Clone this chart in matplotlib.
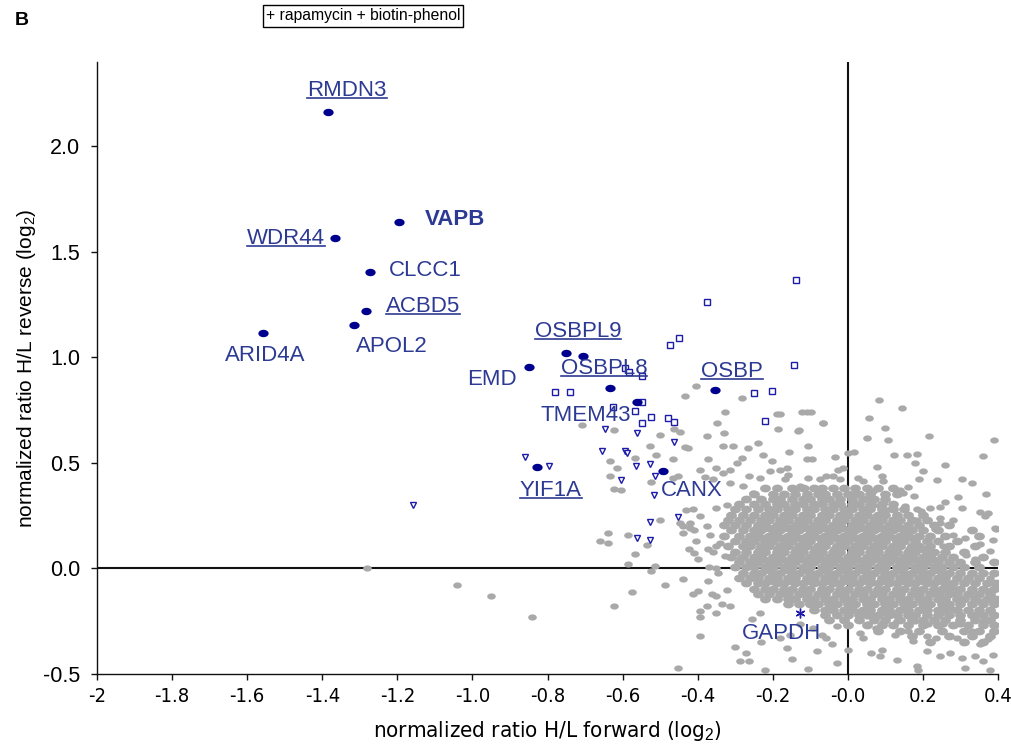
import matplotlib
matplotlib.use('Agg')
import matplotlib.pyplot as plt
from matplotlib import font_manager
from matplotlib.path import Path
from matplotlib.lines import Line2D
import numpy as np

plt.rcParams['font.family'] = ['Liberation Sans', 'DejaVu Sans']
plt.rcParams['mathtext.fontset'] = 'custom'
plt.rcParams['mathtext.rm'] = 'Liberation Sans'
plt.rcParams['mathtext.it'] = 'Liberation Sans:italic'

# pick a condensed face for the x axis if one is installed
fonts = font_manager.fontManager.ttflist
names = {f.name for f in fonts}
if 'Liberation Sans Narrow' in names:
    NARROW = dict(family='Liberation Sans Narrow', stretch='normal', size=16)
elif any(f.name == 'DejaVu Sans' and f.stretch == 'condensed' for f in fonts):
    NARROW = dict(family='DejaVu Sans', stretch='condensed', size=14.5)
else:
    NARROW = dict(family='Liberation Sans', stretch='normal', size=13.5)

# ---------------- data ----------------
hit_names = ['RMDN3', 'VAPB', 'WDR44', 'CLCC1', 'ACBD5', 'APOL2', 'ARID4A', 'EMD',
             'OSBPL9', 'OSBPL9', 'OSBPL8', 'TMEM43', 'OSBP', 'YIF1A', 'CANX']
hit_x = [-1.385, -1.196, -1.366, -1.273, -1.284, -1.316, -1.558, -0.850,
         -0.751, -0.706, -0.634, -0.562, -0.354, -0.828, -0.493]
hit_y = [2.161, 1.640, 1.564, 1.403, 1.218, 1.156, 1.118, 0.957,
         1.019, 1.009, 0.853, 0.791, 0.848, 0.483, 0.464]

label_text = ['RMDN3', 'VAPB', 'WDR44', 'CLCC1', 'ACBD5', 'APOL2', 'ARID4A', 'EMD',
              'OSBPL9', 'OSBPL8', 'TMEM43', 'OSBP', 'YIF1A', 'CANX', 'GAPDH']
label_x = [-1.334, -1.126, -1.497, -1.222, -1.132, -1.214, -1.553, -0.948,
           -0.719, -0.650, -0.698, -0.309, -0.791, -0.415, -0.178]
label_y = [2.265, 1.654, 1.564, 1.412, 1.242, 1.052, 1.009, 0.896,
           1.123, 0.948, 0.725, 0.934, 0.370, 0.370, -0.308]
label_ha = ['center', 'left', 'center', 'left', 'center', 'center', 'center', 'center',
            'center', 'center', 'center', 'center', 'center', 'center', 'center']
underlined = ['RMDN3', 'WDR44', 'ACBD5', 'OSBPL9', 'OSBPL8', 'OSBP', 'YIF1A']
bold_labels = ['VAPB']

sq_x = [-0.139, -0.376, -0.449, -0.474, -0.143, -0.547, -0.781, -0.740, -0.250, -0.201,
        -0.549, -0.626, -0.567, -0.525, -0.549, -0.478, -0.463, -0.221, -0.594, -0.583]
sq_y = [1.366, 1.265, 1.093, 1.057, 0.962, 0.911, 0.837, 0.837, 0.831, 0.842,
        0.789, 0.763, 0.747, 0.717, 0.691, 0.711, 0.695, 0.700, 0.948, 0.929]

tri_x = [-0.860, -0.795, -0.647, -0.561, -0.654, -0.594, -0.589, -0.463, -0.565, -0.528,
         -0.514, -0.605, -0.517, -0.452, -0.528, -0.561, -0.528, -1.158]
tri_y = [0.527, 0.485, 0.659, 0.643, 0.556, 0.559, 0.548, 0.597, 0.485, 0.493,
         0.437, 0.420, 0.349, 0.245, 0.219, 0.145, 0.134, 0.303]

gapdh_x = [-0.128]
gapdh_y = [-0.209]

# scattered background proteins (read individually)
gray_sparse = [
    (-1.28, 0.00), (-1.04, -0.08), (-0.95, -0.13), (-0.84, -0.23),
    (-0.64, 0.17), (-0.66, 0.13), (-0.64, 0.12), (-0.585, 0.16), (-0.535, 0.11), (-0.567, 0.07),
    (-0.585, 0.02), (-0.514, 0.01), (-0.525, -0.01), (-0.44, -0.05), (-0.487, -0.08), (-0.574, -0.11),
    (-0.622, -0.18), (-0.453, -0.47), (-0.394, -0.32), (-0.372, -0.06), (-0.412, -0.12), (-0.40, -0.105),
    (-0.376, -0.18), (-0.394, -0.20), (-0.394, -0.23), (-0.35, -0.21), (-0.336, -0.17), (-0.363, -0.12),
    (-0.35, -0.13), (-0.314, -0.18), (-0.323, -0.10), (-0.30, -0.37), (-0.27, -0.40), (-0.288, -0.44),
    (-0.264, -0.44), (-0.22, -0.48), (-0.254, -0.24), (-0.234, -0.21), (-0.23, -0.35),
    (-0.44, 0.17), (-0.41, 0.18), (-0.44, 0.20), (-0.405, 0.13), (-0.423, 0.09), (-0.41, 0.075),
    (-0.40, 0.046), (-0.372, 0.09), (-0.36, 0.08), (-0.35, 0.105), (-0.34, 0.12), (-0.326, 0.058),
    (-0.367, 0.16), (-0.35, 0.003), (-0.345, -0.02), (-0.37, 0.006), (-0.288, 0.05),
    (0.083, 0.80), (0.143, 0.76), (0.056, 0.715), (-0.066, 0.69), (-0.123, 0.74), (-0.11, 0.74),
    (-0.097, 0.74), (-0.181, 0.733), (-0.13, 0.654), (0.10, 0.668), (0.05, 0.616), (0.107, 0.611),
    (0.216, 0.627), (0.389, 0.611), (-0.156, 0.553), (-0.106, 0.58), (-0.11, 0.517), (-0.095, 0.517),
    (-0.035, 0.526), (0.001, 0.548), (0.016, 0.551), (0.122, 0.537), (0.158, 0.537), (0.183, 0.544),
    (0.178, 0.50), (0.258, 0.49), (0.36, 0.532), (0.078, 0.48), (0.20, 0.46), (0.092, 0.437),
    (0.189, 0.422), (0.238, 0.417), (0.303, 0.422), (0.33, 0.406), (0.094, 0.414), (-0.106, 0.427),
    (0.16, 0.385), (0.138, 0.37), (0.147, 0.359), (0.177, 0.343), (0.294, 0.338), (0.367, 0.354),
    (0.258, 0.316), (0.152, 0.295), (0.218, 0.288), (0.245, 0.29), (0.305, 0.288), (0.183, 0.28),
    (0.196, 0.272), (0.352, 0.269), (0.374, 0.264), (0.365, 0.248), (0.28, 0.232), (0.245, 0.24),
    (0.245, 0.217), (0.391, 0.193), (0.183, 0.232),
    (-0.181, 0.469), (-0.163, 0.477), (-0.159, 0.445), (-0.168, 0.422), (-0.128, 0.39), (-0.115, 0.382),
    (-0.141, 0.366), (-0.075, 0.422), (-0.057, 0.437), (-0.039, 0.437), (-0.026, 0.469), (-0.013, 0.477),
    (-0.021, 0.422), (0.027, 0.43), (0.041, 0.414), (0.019, 0.359), (0.059, 0.359), (0.067, 0.366),
    (0.05, 0.327), (0.067, 0.303), (0.085, 0.295), (0.094, 0.311), (0.099, 0.272), (0.112, 0.28),
    (0.076, 0.248),
    (-0.405, 0.867), (-0.434, 0.817), (-0.326, 0.742), (-0.283, 0.81), (-0.349, 0.69), (-0.374, 0.627),
    (-0.33, 0.643), (-0.19, 0.73), (-0.186, 0.662), (-0.132, 0.65), (-0.067, 0.69), (-0.709, 0.682),
    (-0.623, 0.655), (-0.50, 0.632), (-0.463, 0.663), (-0.447, 0.648), (-0.527, 0.58), (-0.434, 0.575),
    (-0.425, 0.569), (-0.465, 0.521), (-0.51, 0.54), (-0.567, 0.525), (-0.634, 0.508), (-0.616, 0.477),
    (-0.634, 0.437), (-0.622, 0.379), (-0.605, 0.37), (-0.523, 0.409), (-0.465, 0.43), (-0.452, 0.437),
    (-0.372, 0.517), (-0.394, 0.469), (-0.35, 0.477), (-0.381, 0.433), (-0.359, 0.422), (-0.332, 0.454),
    (-0.314, 0.469), (-0.296, 0.501), (-0.283, 0.525), (-0.305, 0.58), (-0.332, 0.58), (-0.266, 0.572),
    (-0.239, 0.596), (-0.226, 0.54), (-0.203, 0.509), (-0.263, 0.437), (-0.234, 0.43), (-0.208, 0.461),
    (-0.279, 0.39), (-0.314, 0.406), (-0.252, 0.359), (-0.43, 0.275), (-0.412, 0.28), (-0.394, 0.248),
    (-0.35, 0.288), (-0.323, 0.303), (-0.376, 0.20), (-0.50, 0.232), (-0.421, 0.217), (-0.421, 0.193),
    (-0.447, 0.217),
    (-0.106, -0.474), (-0.028, -0.447), (-0.15, -0.431), (-0.083, -0.392), (0.001, -0.384), (0.001, -0.179),
    (0.032, -0.305), (0.063, -0.40), (0.09, -0.384), (0.085, -0.416), (0.13, -0.436), (0.183, -0.463),
    (0.187, -0.479), (0.16, -0.297), (0.125, -0.313), (0.21, -0.392), (0.245, -0.416), (0.272, -0.40),
    (0.312, -0.47), (0.303, -0.423), (0.338, -0.416), (0.378, -0.479), (0.36, -0.439), (0.387, -0.408),
    (0.374, -0.336), (0.352, -0.36), (0.29, -0.328), (0.33, -0.294), (0.236, -0.328), (0.21, -0.321),
    (0.174, -0.345), (0.054, -0.265), (0.076, -0.281), (0.041, -0.328), (0.094, -0.257), (0.13, -0.25),
    (0.178, -0.25), (0.214, -0.265), (0.254, -0.265), (0.298, -0.265), (0.36, -0.25), (0.387, -0.218),
    (0.343, -0.218), (0.28, -0.194), (0.245, -0.21), (0.21, -0.202), (0.17, -0.218), (0.13, -0.21),
    (0.085, -0.218), (0.05, -0.226), (0.023, -0.202), (-0.03, -0.273), (-0.057, -0.328), (-0.043, -0.36),
    (-0.07, -0.313), (-0.092, -0.281), (-0.163, -0.376), (-0.181, -0.328), (-0.154, -0.313), (-0.128, -0.265),
    (0.396, 0.185), (0.387, 0.137), (0.312, 0.145), (0.352, 0.114), (0.338, 0.043), (0.378, 0.082),
    (0.316, 0.066), (0.28, 0.161), (0.254, 0.106), (0.232, 0.185), (0.378, -0.044), (0.374, -0.108),
    (0.352, -0.155), (0.325, -0.123), (0.387, -0.163), (0.298, -0.155), (0.316, -0.06), (0.28, -0.091),
    (0.245, -0.123),
]

# dense core of background proteins, row by row (y, list of x)
gray_core = [
    (0.380, [-0.22, -0.19, -0.15, -0.12, -0.09, -0.07, -0.04, -0.01, 0.02, 0.05, 0.08, 0.12]),
    (0.355, [-0.25, -0.20, -0.17, -0.14, -0.11, -0.08, -0.06, -0.03, 0.00, 0.03, 0.06, 0.10, 0.13]),
    (0.330, [-0.27, -0.23, -0.20, -0.18, -0.15, -0.12, -0.10, -0.07, -0.05, -0.02, 0.01, 0.04, 0.07, 0.10]),
    (0.305, [-0.29, -0.25, -0.22, -0.19, -0.17, -0.14, -0.12, -0.09, -0.07, -0.04, -0.02, 0.01, 0.03, 0.06, 0.09, 0.12]),
    (0.280, [-0.30, -0.27, -0.24, -0.21, -0.19, -0.16, -0.14, -0.11, -0.09, -0.06, -0.04, -0.01, 0.01, 0.04, 0.06, 0.09, 0.12, 0.15]),
    (0.255, [-0.31, -0.28, -0.25, -0.22, -0.20, -0.17, -0.15, -0.12, -0.10, -0.07, -0.05, -0.02, 0.00, 0.03, 0.05, 0.08, 0.10, 0.13, 0.16, 0.20]),
    (0.230, [-0.32, -0.29, -0.26, -0.23, -0.21, -0.18, -0.16, -0.13, -0.11, -0.08, -0.06, -0.03, -0.01, 0.02, 0.04, 0.07, 0.09, 0.12, 0.14, 0.17, 0.21]),
    (0.205, [-0.33, -0.30, -0.27, -0.24, -0.22, -0.19, -0.17, -0.14, -0.12, -0.09, -0.07, -0.04, -0.02, 0.01, 0.03, 0.06, 0.08, 0.11, 0.13, 0.16, 0.19, 0.23, 0.27]),
    (0.193, [-0.21, -0.16, -0.11, -0.06, -0.015, 0.035, 0.085, 0.135]),
    (0.180, [-0.31, -0.28, -0.25, -0.23, -0.20, -0.18, -0.15, -0.13, -0.10, -0.08, -0.05, -0.03, 0.00, 0.02, 0.05, 0.07, 0.10, 0.12, 0.15, 0.17, 0.20, 0.24, 0.33]),
    (0.155, [-0.33, -0.29, -0.26, -0.24, -0.21, -0.19, -0.16, -0.14, -0.11, -0.09, -0.06, -0.04, -0.01, 0.01, 0.04, 0.06, 0.09, 0.11, 0.14, 0.16, 0.19, 0.22, 0.26, 0.35]),
    (0.143, [-0.225, -0.175, -0.125, -0.075, -0.025, 0.025, 0.075, 0.125, 0.175]),
    (0.130, [-0.30, -0.27, -0.25, -0.22, -0.20, -0.17, -0.15, -0.12, -0.10, -0.07, -0.05, -0.02, 0.00, 0.03, 0.05, 0.08, 0.10, 0.13, 0.15, 0.18, 0.21, 0.24, 0.29]),
    (0.105, [-0.32, -0.28, -0.26, -0.23, -0.21, -0.18, -0.16, -0.13, -0.11, -0.08, -0.06, -0.03, -0.01, 0.02, 0.04, 0.07, 0.09, 0.12, 0.14, 0.17, 0.19, 0.22, 0.27, 0.34]),
    (0.093, [-0.235, -0.185, -0.135, -0.085, -0.035, 0.015, 0.065, 0.115, 0.165, 0.20]),
    (0.080, [-0.30, -0.27, -0.24, -0.22, -0.19, -0.17, -0.14, -0.12, -0.09, -0.07, -0.04, -0.02, 0.01, 0.03, 0.06, 0.08, 0.11, 0.13, 0.16, 0.18, 0.21, 0.23, 0.26, 0.31]),
    (0.055, [-0.31, -0.28, -0.25, -0.23, -0.20, -0.18, -0.15, -0.13, -0.10, -0.08, -0.05, -0.03, 0.00, 0.02, 0.05, 0.07, 0.10, 0.12, 0.15, 0.17, 0.20, 0.22, 0.25, 0.28, 0.36]),
    (0.043, [-0.225, -0.175, -0.125, -0.075, -0.025, 0.025, 0.075, 0.125, 0.175, 0.225]),
    (0.030, [-0.29, -0.26, -0.24, -0.21, -0.19, -0.16, -0.14, -0.11, -0.09, -0.06, -0.04, -0.01, 0.01, 0.04, 0.06, 0.09, 0.11, 0.14, 0.16, 0.19, 0.21, 0.24, 0.27, 0.30, 0.34, 0.39]),
    (0.005, [-0.30, -0.27, -0.25, -0.22, -0.20, -0.17, -0.15, -0.12, -0.10, -0.07, -0.05, -0.02, 0.00, 0.03, 0.05, 0.08, 0.10, 0.13, 0.15, 0.18, 0.20, 0.23, 0.25, 0.28, 0.31, 0.35]),
    (-0.007, [-0.21, -0.16, -0.11, -0.06, -0.01, 0.04, 0.09, 0.14, 0.19, 0.24]),
    (-0.020, [-0.28, -0.25, -0.23, -0.20, -0.18, -0.15, -0.13, -0.10, -0.08, -0.05, -0.03, 0.00, 0.02, 0.05, 0.07, 0.10, 0.12, 0.15, 0.17, 0.20, 0.22, 0.25, 0.27, 0.30, 0.33, 0.36, 0.39]),
    (-0.045, [-0.29, -0.26, -0.24, -0.21, -0.19, -0.16, -0.14, -0.11, -0.09, -0.06, -0.04, -0.01, 0.01, 0.04, 0.06, 0.09, 0.11, 0.14, 0.16, 0.19, 0.21, 0.24, 0.26, 0.29, 0.32, 0.35]),
    (-0.057, [-0.20, -0.15, -0.10, -0.05, 0.00, 0.05, 0.10, 0.15, 0.20, 0.25]),
    (-0.070, [-0.27, -0.24, -0.22, -0.19, -0.17, -0.14, -0.12, -0.09, -0.07, -0.04, -0.02, 0.01, 0.03, 0.06, 0.08, 0.11, 0.13, 0.16, 0.18, 0.21, 0.23, 0.26, 0.28, 0.31, 0.34, 0.37, 0.395]),
    (-0.095, [-0.25, -0.22, -0.20, -0.17, -0.15, -0.12, -0.10, -0.07, -0.05, -0.02, 0.00, 0.03, 0.05, 0.08, 0.10, 0.13, 0.15, 0.18, 0.20, 0.23, 0.25, 0.27, 0.30, 0.33, 0.36, 0.39]),
    (-0.107, [-0.17, -0.12, -0.07, -0.02, 0.03, 0.08, 0.13, 0.18, 0.23]),
    (-0.120, [-0.24, -0.21, -0.18, -0.16, -0.13, -0.11, -0.08, -0.06, -0.03, -0.01, 0.02, 0.04, 0.07, 0.09, 0.12, 0.14, 0.17, 0.19, 0.22, 0.24, 0.27, 0.29, 0.32, 0.35, 0.38]),
    (-0.145, [-0.22, -0.19, -0.16, -0.14, -0.11, -0.09, -0.06, -0.04, -0.01, 0.01, 0.04, 0.06, 0.09, 0.11, 0.14, 0.16, 0.19, 0.21, 0.24, 0.26, 0.29, 0.31, 0.34, 0.37, 0.395]),
    (-0.157, [-0.10, -0.05, 0.00, 0.05, 0.10, 0.15, 0.20]),
    (-0.170, [-0.16, -0.13, -0.10, -0.08, -0.05, -0.03, 0.00, 0.02, 0.05, 0.07, 0.10, 0.12, 0.15, 0.17, 0.20, 0.22, 0.25, 0.27, 0.30, 0.33, 0.36, 0.39]),
    (-0.195, [-0.09, -0.06, -0.04, -0.01, 0.01, 0.04, 0.06, 0.09, 0.11, 0.14, 0.16, 0.19, 0.21, 0.24, 0.26, 0.29, 0.32, 0.35, 0.38]),
    (-0.220, [-0.06, -0.03, 0.00, 0.03, 0.06, 0.08, 0.11, 0.13, 0.16, 0.18, 0.21, 0.24, 0.27, 0.30, 0.33, 0.36, 0.39]),
    (-0.245, [-0.05, -0.01, 0.03, 0.07, 0.10, 0.14, 0.17, 0.20, 0.23, 0.26, 0.30, 0.34, 0.38]),
    (-0.270, [0.00, 0.05, 0.09, 0.12, 0.16, 0.20, 0.24, 0.28, 0.32, 0.36, 0.39]),
    (-0.295, [0.08, 0.14, 0.19, 0.25, 0.31, 0.35, 0.39]),
    (-0.320, [0.17, 0.27, 0.33, 0.38]),
    (-0.350, [0.22, 0.31, 0.36]),
]

x_ticks = [-2, -1.8, -1.6, -1.4, -1.2, -1.0, -0.8, -0.6, -0.4, -0.2, 0.0, 0.2, 0.4]
x_ticklabels = ['-2', '-1.8', '-1.6', '-1.4', '-1.2', '-1.0', '-0.8', '-0.6', '-0.4', '-0.2', '-0.0', '0.2', '0.4']
y_ticks = [-0.5, 0.0, 0.5, 1.0, 1.5, 2.0]
y_ticklabels = ['-0.5', '0.0', '0.5', '1.0', '1.5', '2.0']

# ---------------- styling ----------------
GRAY = '#a9a9a9'
DOT = '#00008f'
OPEN = '#1c1ca8'
TXT = '#2d3a93'

t = np.linspace(0, 2 * np.pi, 41)
ellipse = Path(np.column_stack([np.cos(t), 0.72 * np.sin(t)]), closed=True)

sx = [p[0] for p in gray_sparse]
sy = [p[1] for p in gray_sparse]
cx, cy = [], []
for yrow, xs in gray_core:
    cx.extend(xs)
    cy.extend([yrow] * len(xs))

fig = plt.figure(figsize=(10.11, 7.47), dpi=100)
ax = fig.add_axes([97 / 1011, 73 / 747, 901 / 1011, 612 / 747])
ax.set_xlim(-2, 0.4)
ax.set_ylim(-0.5, 2.4)

ax.axhline(0, color='#111111', lw=1.5, zorder=1)
ax.axvline(0, color='#111111', lw=1.5, zorder=1)

ax.plot(cx, cy, linestyle='none', marker=ellipse, ms=7.8, mew=0, color=GRAY, zorder=2)
ax.plot(sx, sy, linestyle='none', marker=ellipse, ms=6.2, mew=0, color=GRAY, zorder=2)
ax.plot(sq_x, sq_y, linestyle='none', marker='s', ms=4.2, mfc='white', mec=OPEN, mew=1.0, zorder=3)
ax.plot(tri_x, tri_y, linestyle='none', marker='v', ms=4.6, mfc='white', mec=OPEN, mew=1.0, zorder=3)
ax.plot(hit_x, hit_y, linestyle='none', marker=ellipse, ms=7.4, mew=0, color=DOT, zorder=4)
ax.plot(gapdh_x, gapdh_y, linestyle='none', marker=(6, 2, 0), ms=7, mew=1.0, color=OPEN, zorder=4)

texts = []
for name, lx, ly, ha in zip(label_text, label_x, label_y, label_ha):
    tx = ax.text(lx, ly, name, ha=ha, va='center', fontsize=16, color=TXT,
                 fontweight='bold' if name in bold_labels else 'normal', zorder=5)
    texts.append(tx)

for s in ['top', 'right']:
    ax.spines[s].set_visible(False)
for s in ['left', 'bottom']:
    ax.spines[s].set_linewidth(1.0)
    ax.spines[s].set_color('#111111')

ax.set_xticks(x_ticks)
ax.set_xticklabels(x_ticklabels, fontfamily=NARROW['family'], fontstretch=NARROW['stretch'],
                   fontsize=NARROW['size'])
ax.set_yticks(y_ticks)
ax.set_yticklabels(y_ticklabels, fontsize=15.5)
ax.tick_params(axis='both', direction='out', length=4, width=1, color='#111111')
ax.tick_params(axis='x', pad=5)
ax.tick_params(axis='y', pad=8)

ax.set_xlabel(r'normalized ratio H/L forward (log$_2$)', fontfamily=NARROW['family'],
              fontstretch=NARROW['stretch'], fontsize=NARROW['size'] + 1.5, labelpad=10)
ax.set_ylabel(r'normalized ratio H/L reverse (log$_2$)', fontsize=15, labelpad=4)

fig.text(0.022, 0.972, 'B', fontsize=14, fontweight='bold', ha='center', va='center')
fig.text(0.359, 0.9786, '+ rapamycin + biotin-phenol', fontsize=11.3, ha='center', va='center',
         bbox=dict(boxstyle='square,pad=0.2', fc='white', ec='black', lw=1.0))

# underline selected labels
fig.canvas.draw()
renderer = fig.canvas.get_renderer()
inv = fig.transFigure.inverted()
for tx in texts:
    if tx.get_text() in underlined:
        bb = tx.get_window_extent(renderer)
        (x0, y0) = inv.transform((bb.x0, bb.y0 + 2.5))
        (x1, _) = inv.transform((bb.x1, bb.y0 + 2.5))
        fig.add_artist(Line2D([x0, x1], [y0, y0], transform=fig.transFigure, color=TXT, lw=1.2))

fig.savefig('out.png', dpi=100)
